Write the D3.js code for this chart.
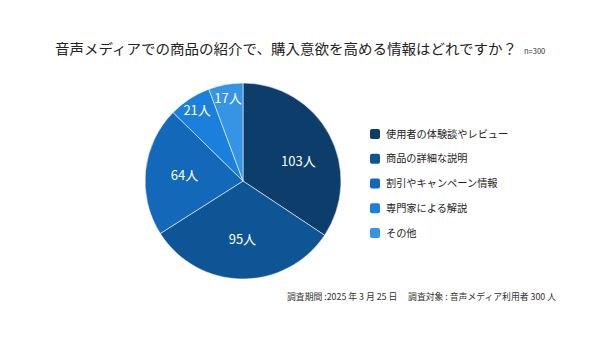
<!DOCTYPE html>
<html><head><meta charset="utf-8">
<script src="https://cdn.jsdelivr.net/npm/d3@7"></script>
<style>body{margin:0;background:#fff}svg{display:block}text{font-family:"Noto Sans CJK JP","Noto Sans",sans-serif}</style>
</head><body><svg id="c" width="600" height="339"></svg>
<script>
const categories=["使用者の体験談やレビュー","商品の詳細な説明","割引やキャンペーン情報","専門家による解説","その他"];
const values=[103,95,64,21,17];
const unit="人";
const colors=["#0c3d6b","#0e5595","#1468b9","#1b80dc","#3594e4"];
const title="音声メディアでの商品の紹介で、購入意欲を高める情報はどれですか？";
const nLabel="n=300";
const footer="調査期間 :2025 年 3 月 25 日　 調査対象 : 音声メディア利用者 300 人";

const svg=d3.select("#c");
svg.append("rect").attr("width",600).attr("height",339).attr("fill","#fff");
svg.append("text").attr("x",55).attr("y",54).attr("font-size",14.2).attr("textLength",462).attr("lengthAdjust","spacingAndGlyphs").attr("fill","#222").text(title);
svg.append("text").attr("x",524).attr("y",54).attr("font-size",7.5).attr("fill","#333").text(nLabel);

const cx=243,cy=181,R=98;
const pie=d3.pie().sort(null).value(d=>d)(values);
const arc=d3.arc().innerRadius(0).outerRadius(R);
const g=svg.append("g").attr("transform",`translate(${cx},${cy})`);
g.selectAll("path").data(pie).join("path").attr("d",arc).attr("fill",(d,i)=>colors[i]).attr("stroke","#fff").attr("stroke-width",0.8).attr("stroke-opacity",0.7);
g.selectAll("text").data(pie).join("text").attr("transform",d=>{
  const span=d.endAngle-d.startAngle;
  const r=span<0.6?R*0.86:R*0.6;
  const a=(d.startAngle+d.endAngle)/2+(span>2?0.15:0);
  return `translate(${Math.sin(a)*r},${-Math.cos(a)*r})`;
}).attr("text-anchor","middle").attr("dy","0.36em").attr("font-size",13).attr("fill","#fff").text(d=>d.data+unit);

const lg=svg.append("g");
const ly=d3.scalePoint().domain(categories).range([134,233]);
categories.forEach((c,i)=>{
  lg.append("rect").attr("x",370).attr("y",ly(c)-5).attr("width",10).attr("height",10).attr("rx",2).attr("fill",colors[i]);
  lg.append("text").attr("x",386).attr("y",ly(c)).attr("dy","0.36em").attr("font-size",10.2).attr("fill","#222").text(c);
});
svg.append("text").attr("x",287).attr("y",300).attr("font-size",9).attr("textLength",269).attr("lengthAdjust","spacingAndGlyphs").attr("fill","#333").text(footer);
</script></body></html>
